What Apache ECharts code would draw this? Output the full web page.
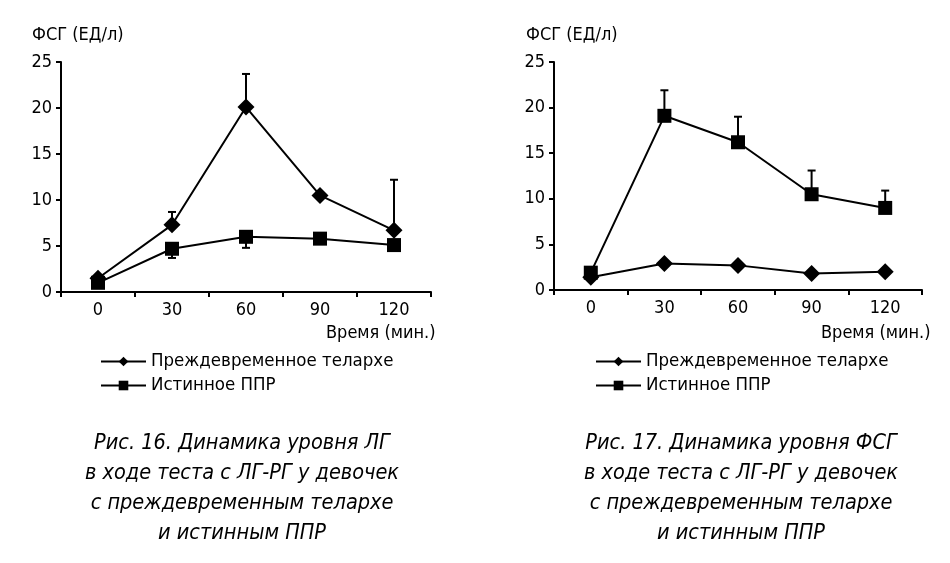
<!DOCTYPE html>
<html>
<head>
<meta charset="utf-8">
<script src="https://cdn.jsdelivr.net/npm/echarts@6/dist/echarts.min.js"></script>
<style>
html,body{margin:0;padding:0;background:#fff;}
#c{width:950px;height:563px;}
</style>
</head>
<body>
<div id="c"></div>
<script>
var categories = ['0', '30', '60', '90', '120'];
var yTicks = [0, 5, 10, 15, 20, 25];
var seriesNames = ['Преждевременное телархе', 'Истинное ППР'];

// Рис. 16 (left)
var leftThelarche = [1.5, 7.3, 20.1, 10.5, 6.7];
var leftThelarcheErrHigh = [null, 8.7, 23.7, null, 12.2];
var leftPPR = [1.0, 4.7, 6.0, 5.8, 5.1];
var leftPPRErrLow = [null, 3.7, 4.8, null, null];

// Рис. 17 (right)
var rightThelarche = [1.4, 2.9, 2.7, 1.8, 2.0];
var rightPPR = [1.9, 19.1, 16.2, 10.5, 9.0];
var rightPPRErrHigh = [null, 21.9, 19.0, 13.1, 10.9];

var yTitle = 'ФСГ (ЕД/л)';
var xTitle = 'Время (мин.)';
var captionLeft = 'Рис. 16. Динамика уровня ЛГ\nв ходе теста с ЛГ-РГ у девочек\nс преждевременным телархе\nи истинным ППР';
var captionRight = 'Рис. 17. Динамика уровня ФСГ\nв ходе теста с ЛГ-РГ у девочек\nс преждевременным телархе\nи истинным ППР';

var FONT = '"Liberation Sans Narrow", "DejaVu Sans Condensed", "Liberation Sans", sans-serif';

function errData(vals, ends) {
  var out = [];
  for (var i = 0; i < vals.length; i++) {
    if (ends[i] != null) out.push([i, vals[i], ends[i]]);
  }
  return out;
}

function renderErr(params, api) {
  var p1 = api.coord([api.value(0), api.value(1)]);
  var p2 = api.coord([api.value(0), api.value(2)]);
  var st = {stroke: '#000', lineWidth: 2};
  return {
    type: 'group',
    children: [
      {type: 'line', shape: {x1: p1[0], y1: p1[1], x2: p2[0], y2: p2[1]}, style: st},
      {type: 'line', shape: {x1: p2[0] - 4, y1: p2[1], x2: p2[0] + 4, y2: p2[1]}, style: st}
    ]
  };
}

function xAxis(gi) {
  return {
    type: 'category', gridIndex: gi, data: categories, boundaryGap: true,
    axisLine: {lineStyle: {color: '#000', width: 2}},
    axisTick: {show: true, length: 5, lineStyle: {color: '#000', width: 2}},
    axisLabel: {color: '#000', fontSize: 18, fontFamily: FONT, margin: 9},
    splitLine: {show: false}
  };
}
function yAxis(gi) {
  return {
    type: 'value', gridIndex: gi, min: yTicks[0], max: yTicks[yTicks.length - 1], interval: 5,
    axisLine: {show: true, lineStyle: {color: '#000', width: 2}},
    axisTick: {show: true, length: 5, lineStyle: {color: '#000', width: 2}},
    axisLabel: {color: '#000', fontSize: 18, fontFamily: FONT, margin: 9},
    splitLine: {show: false}
  };
}

function lineSeries(name, data, gi, sym, size) {
  return {
    type: 'line', name: name, xAxisIndex: gi, yAxisIndex: gi, data: data,
    symbol: sym, symbolSize: size, showSymbol: true,
    lineStyle: {color: '#000', width: 2}, itemStyle: {color: '#000'},
    animation: false, z: 3
  };
}

var titleStyle = {fontSize: 18, fontWeight: 'normal', color: '#000', fontFamily: FONT};
var capStyle = {fontSize: 21.5, fontStyle: 'italic', fontWeight: 'normal', color: '#000', fontFamily: FONT, lineHeight: 30, align: 'center'};

var chart = echarts.init(document.getElementById('c'));
chart.setOption({
  backgroundColor: '#fff',
  animation: false,
  grid: [
    {left: 61, top: 62, width: 370, height: 230},
    {left: 554, top: 62, width: 368, height: 228}
  ],
  xAxis: [xAxis(0), xAxis(1)],
  yAxis: [yAxis(0), yAxis(1)],
  title: [
    {text: yTitle, left: 27, top: 21, textStyle: titleStyle},
    {text: yTitle, left: 521, top: 21, textStyle: titleStyle},
    {text: xTitle, left: 321, top: 319, textStyle: titleStyle},
    {text: xTitle, left: 816, top: 319, textStyle: titleStyle},
    {text: captionLeft, left: 237, top: 423, textAlign: 'center', textStyle: capStyle},
    {text: captionRight, left: 736, top: 423, textAlign: 'center', textStyle: capStyle}
  ],
  legend: [
    {left: 95, top: 347, orient: 'vertical', itemWidth: 45, itemHeight: 12, itemGap: 5,
     data: seriesNames, textStyle: {fontSize: 18.5, color: '#000', fontFamily: FONT}, selectedMode: false},
    {left: 590, top: 347, orient: 'vertical', itemWidth: 45, itemHeight: 12, itemGap: 5,
     data: seriesNames, textStyle: {fontSize: 18.5, color: '#000', fontFamily: FONT}, selectedMode: false}
  ],
  series: [
    lineSeries(seriesNames[0], leftThelarche, 0, 'diamond', 17),
    lineSeries(seriesNames[1], leftPPR, 0, 'rect', 14),
    lineSeries(seriesNames[0], rightThelarche, 1, 'diamond', 17),
    lineSeries(seriesNames[1], rightPPR, 1, 'rect', 14),
    {type: 'custom', xAxisIndex: 0, yAxisIndex: 0, renderItem: renderErr, data: errData(leftThelarche, leftThelarcheErrHigh), z: 2},
    {type: 'custom', xAxisIndex: 0, yAxisIndex: 0, renderItem: renderErr, data: errData(leftPPR, leftPPRErrLow), z: 2},
    {type: 'custom', xAxisIndex: 1, yAxisIndex: 1, renderItem: renderErr, data: errData(rightPPR, rightPPRErrHigh), z: 2}
  ]
});
</script>
</body>
</html>
